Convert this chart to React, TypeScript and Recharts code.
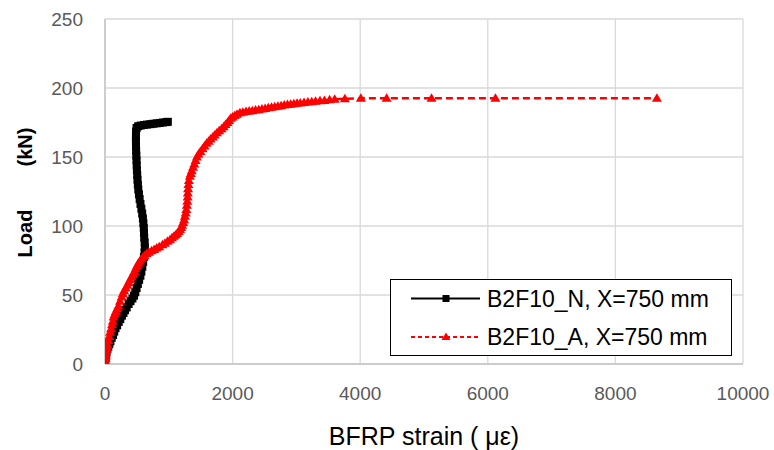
import React from 'react';
import { LineChart, Line, XAxis, YAxis, CartesianGrid, Legend } from 'recharts';

// B2F10_N, X=750 mm : [strain (µε), load (kN)]
const seriesN: [number, number][] = [
  [0, 0], [0, 1.5], [3, 3], [8, 5], [15, 7], [25, 9], [38, 11], [52, 12.5], [68, 14.5], [85, 16.5],
  [105, 19], [125, 21], [145, 23.5], [165, 26], [190, 28], [215, 30.5], [240, 32.5], [265, 35], [290, 37], [313, 39],
  [340, 41], [370, 43.5], [400, 45.5], [430, 47.5], [455, 49.5], [475, 52], [495, 55], [515, 58], [535, 61], [555, 64],
  [570, 67], [585, 70.5], [598, 74], [610, 77.5], [620, 81], [625, 84.5], [622, 88], [615, 91.5], [611, 95], [608, 98.5],
  [602, 102], [594, 105.5], [583, 109], [570, 112.5], [556, 116], [543, 119.5], [532, 123], [522, 126.5], [515, 130], [509, 133.5],
  [505, 137], [500, 140.5], [497, 144], [494, 147.5], [491, 151], [488, 154.5], [486, 158], [485, 161.5], [485, 165], [487, 168.5],
  [495, 171], [520, 172.3], [560, 172.8], [610, 173.2], [660, 173.5], [710, 173.8], [760, 174.1], [810, 174.4], [860, 174.7], [910, 175],
  [960, 175.3], [985, 175.5],
];

// B2F10_A, X=750 mm : [strain (µε), load (kN)]
const seriesA: [number, number][] = [
  [0, 0], [5, 2], [10, 4], [13, 6], [16, 8], [22, 10], [30, 12], [40, 14], [52, 17], [65, 20],
  [80, 23], [95, 25.5], [110, 28.5], [122, 31], [135, 34], [152, 36], [170, 38], [190, 40], [210, 42], [235, 45.5],
  [261, 48.5], [280, 51], [300, 53], [325, 55], [350, 57], [370, 59], [392, 61], [415, 63], [440, 65], [460, 67],
  [480, 69], [500, 71], [522, 73], [545, 74.5], [570, 76], [595, 77.5], [620, 78.5], [653, 80], [690, 81], [730, 82],
  [770, 83], [810, 84], [850, 85], [900, 86.5], [940, 87.5], [980, 89], [1018, 90], [1050, 91.5], [1080, 92.5], [1105, 93.5],
  [1130, 94.5], [1155, 96], [1175, 97.5], [1195, 99], [1210, 100.5], [1225, 102.5], [1240, 104.5], [1253, 107], [1265, 109.5], [1275, 112],
  [1283, 115], [1290, 118], [1295, 121], [1298, 124], [1302, 127], [1307, 130], [1315, 133], [1330, 136], [1345, 138], [1360, 140],
  [1380, 142.5], [1400, 145], [1420, 147.5], [1440, 150], [1465, 152], [1495, 154], [1530, 156], [1560, 158], [1593, 160], [1625, 161.5],
  [1655, 163], [1690, 164.5], [1720, 166], [1755, 167.5], [1790, 169], [1828, 170.5], [1860, 172], [1890, 173.5], [1920, 175], [1945, 176.5],
  [1970, 178], [2000, 179], [2035, 180], [2070, 181], [2115, 182], [2160, 182.5], [2210, 183], [2260, 183.3], [2310, 183.6], [2360, 184],
  [2410, 184.3], [2460, 184.7], [2510, 185.2], [2560, 185.6], [2610, 186], [2660, 186.4], [2710, 186.8], [2760, 187.2], [2810, 187.6], [2860, 188],
  [2910, 188.3], [2960, 188.6], [3010, 188.9], [3060, 189.2], [3120, 189.5], [3180, 189.8], [3240, 190.1], [3300, 190.4], [3370, 190.7], [3440, 191],
  [3520, 191.4], [3600, 191.8], [3760, 192.2], [4010, 192.5], [4414, 192.5], [5118, 192.5], [6120, 192.5], [8650, 192.5],
];

const xTicks = [0, 2000, 4000, 6000, 8000, 10000];
const yTicks = [0, 50, 100, 150, 200, 250];

const nameN = 'B2F10_N, X=750 mm';
const nameA = 'B2F10_A, X=750 mm';
const xLabel = 'BFRP strain ( με)';
const yLabelA = 'Load';
const yLabelB = '(kN)';

const dataN = seriesN.map(([x, y]) => ({ x, y }));
const dataA = seriesA.map(([x, y]) => ({ x, y }));

const FONT = '"Liberation Sans", Arial, sans-serif';

const SquareDot = (props: any) => {
  const { cx, cy, index } = props;
  if (cx == null || cy == null) return <g key={`n-${index}`} />;
  return <rect key={`n-${index}`} x={cx - 4} y={cy - 4} width={8} height={8} fill="#000" />;
};

const TriDot = (props: any) => {
  const { cx, cy, index } = props;
  if (cx == null || cy == null) return <g key={`a-${index}`} />;
  return (
    <polygon
      key={`a-${index}`}
      points={`${cx},${cy - 5} ${cx + 5},${cy + 3.5} ${cx - 5},${cy + 3.5}`}
      fill="#ff0000"
    />
  );
};

const XLabel = (props: any) => {
  const vb = props.viewBox || {};
  return (
    <text
      x={vb.x + vb.width / 2}
      y={vb.y + 81}
      textAnchor="middle"
      fontFamily={FONT}
      fontSize={25}
      fill="#000"
    >
      {xLabel}
    </text>
  );
};

const YLabel = (props: any) => {
  const vb = props.viewBox || {};
  const cx = 24.5;
  const mid = vb.y + vb.height / 2;
  const y1 = mid + 42;
  const y2 = mid - 44.5;
  return (
    <g>
      <text
        x={cx}
        y={y1}
        transform={`rotate(-90, ${cx}, ${y1})`}
        textAnchor="middle"
        dominantBaseline="central"
        fontFamily={FONT}
        fontSize={20}
        fontWeight="bold"
        fill="#000"
      >
        {yLabelA}
      </text>
      <text
        x={cx}
        y={y2}
        transform={`rotate(-90, ${cx}, ${y2})`}
        textAnchor="middle"
        dominantBaseline="central"
        fontFamily={FONT}
        fontSize={20}
        fontWeight="bold"
        fill="#000"
      >
        {yLabelB}
      </text>
    </g>
  );
};

const LegendBox = () => (
  <div
    style={{
      position: 'relative',
      width: 342,
      height: 77,
      border: '1.5px solid #000',
      boxSizing: 'border-box',
      background: '#fff',
      fontFamily: FONT,
      fontSize: 23,
      color: '#000',
    }}
  >
    <svg width={95} height={77} style={{ position: 'absolute', left: 0, top: 0 }}>
      <line x1={20} y1={18.5} x2={89} y2={18.5} stroke="#000" strokeWidth={2} />
      <rect x={51.5} y={15} width={7} height={7} fill="#000" />
      <line x1={20} y1={57} x2={89} y2={57} stroke="#ff0000" strokeWidth={2} strokeDasharray="4 3" />
      <polygon points="55,52.5 59.5,60 50.5,60" fill="#ff0000" />
    </svg>
    <div style={{ position: 'absolute', left: 96, top: 18.5, transform: 'translateY(-50%)', whiteSpace: 'nowrap', lineHeight: 1 }}>
      {nameN}
    </div>
    <div style={{ position: 'absolute', left: 96, top: 57, transform: 'translateY(-50%)', whiteSpace: 'nowrap', lineHeight: 1 }}>
      {nameA}
    </div>
  </div>
);

export default function App() {
  return (
    <div style={{ position: 'absolute', left: 0, top: 0, width: 774, height: 450, background: '#fff' }}>
      <LineChart width={774} height={450} margin={{ top: 19, right: 31, bottom: 56, left: 0 }}>
        <CartesianGrid stroke="#d9d9d9" strokeWidth={1.3} />
        <XAxis
          type="number"
          dataKey="x"
          domain={[0, 10000]}
          ticks={xTicks}
          allowDataOverflow
          height={30}
          tickLine={false}
          tickSize={0}
          tickMargin={23}
          axisLine={{ stroke: '#c4c4c4', strokeWidth: 1.5 }}
          tick={{ fill: '#595959', fontSize: 19, fontFamily: FONT }}
          label={<XLabel />}
        />
        <YAxis
          type="number"
          dataKey="y"
          domain={[0, 250]}
          ticks={yTicks}
          allowDataOverflow
          width={105}
          tickLine={false}
          tickSize={0}
          tickMargin={22}
          axisLine={{ stroke: '#c4c4c4', strokeWidth: 1.5 }}
          tick={{ fill: '#595959', fontSize: 19, fontFamily: FONT }}
          label={<YLabel />}
        />
        <Legend
          layout="vertical"
          align="center"
          verticalAlign="middle"
          content={<LegendBox />}
          wrapperStyle={{ position: 'absolute', left: 390, top: 279, width: 342, height: 77 }}
        />
        <Line
          data={dataN}
          dataKey="y"
          name={nameN}
          stroke="#000"
          strokeWidth={3}
          dot={SquareDot}
          activeDot={false}
          isAnimationActive={false}
        />
        <Line
          data={dataA}
          dataKey="y"
          name={nameA}
          stroke="#ff0000"
          strokeWidth={2.5}
          strokeDasharray="7 4"
          dot={TriDot}
          activeDot={false}
          isAnimationActive={false}
        />
      </LineChart>
    </div>
  );
}
